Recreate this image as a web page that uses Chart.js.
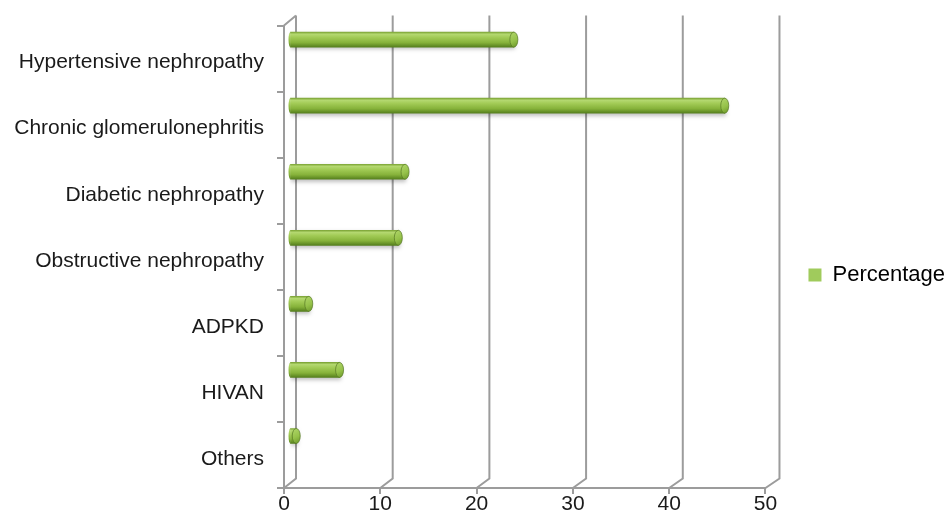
<!DOCTYPE html>
<html>
<head>
<meta charset="utf-8">
<title>Causes of chronic kidney disease</title>
<script src="https://cdn.jsdelivr.net/npm/chart.js@4.4.1/dist/chart.umd.min.js"></script>
<style>
  html, body { margin: 0; padding: 0; background: #ffffff; }
  #wrap { width: 951px; height: 516px; position: relative; }
</style>
</head>
<body>
<div id="wrap"><canvas id="c" width="951" height="516"></canvas></div>
<script>
// Aetiology of kidney disease, share of patients (%)
const categories = [
  'Hypertensive nephropathy',
  'Chronic glomerulonephritis',
  'Diabetic nephropathy',
  'Obstructive nephropathy',
  'ADPKD',
  'HIVAN',
  'Others'
];
const percentage = [23.3, 45.2, 12, 11.3, 2, 5.2, 0.7];
const xTicks = [0, 10, 20, 30, 40, 50];
const seriesName = 'Percentage';

// 3-D look: back wall depth and where the cylinders sit inside the box
const DEPTH_X = 12, DEPTH_Y = 9.5;
const BAR_SHIFT_X = 5.5, BAR_SHIFT_Y = -19;
const GRID = '#9c9c9c';
const FONT = "'Liberation Sans', Arial, sans-serif";

const wallAndCylinders = {
  id: 'wallAndCylinders',
  afterLayout(chart) {
    // park the legend on the right, level with the middle of the bars
    const lg = chart.legend;
    if (lg) { lg.left += 33; lg.right += 33; lg.top += 5; lg.bottom += 5; }
  },
  beforeDatasetsDraw(chart) {
    const {ctx, chartArea} = chart;
    const xs = chart.scales.x;
    const top = chartArea.top - DEPTH_Y - 0.5;
    const bottom = chartArea.bottom;
    ctx.save();
    ctx.strokeStyle = GRID;
    ctx.lineWidth = 2;
    ctx.beginPath();
    xTicks.forEach(v => {
      const x = xs.getPixelForValue(v);
      const bx = x + DEPTH_X + v * 0.04;
      ctx.moveTo(bx, top);
      ctx.lineTo(bx, bottom - DEPTH_Y);
      ctx.lineTo(x, bottom);
    });
    // top corner of the side wall
    ctx.moveTo(chartArea.left, chartArea.top);
    ctx.lineTo(chartArea.left + DEPTH_X, top);
    ctx.stroke();
    ctx.restore();

    // cylinders float inside the box
    ctx.save();
    ctx.translate(BAR_SHIFT_X, BAR_SHIFT_Y);
    ctx.shadowColor = 'rgba(0,0,0,0.25)';
    ctx.shadowBlur = 4;
    ctx.shadowOffsetX = 1;
    ctx.shadowOffsetY = 2;
  },
  afterDatasetsDraw(chart) {
    const {ctx} = chart;
    ctx.shadowColor = 'rgba(0,0,0,0)';
    ctx.shadowBlur = 0;
    ctx.shadowOffsetX = 0;
    ctx.shadowOffsetY = 0;
    const meta = chart.getDatasetMeta(0);
    meta.data.forEach(bar => {
      const h = bar.height / 2;
      const rx = 4;
      // rounded far end of each cylinder
      const g = ctx.createLinearGradient(bar.x - rx, bar.y - h, bar.x + rx, bar.y + h);
      g.addColorStop(0, '#b0d66a');
      g.addColorStop(0.55, '#96c24a');
      g.addColorStop(1, '#6a9628');
      ctx.beginPath();
      ctx.ellipse(bar.x, bar.y, rx, h, 0, 0, Math.PI * 2);
      ctx.fillStyle = g;
      ctx.fill();
      ctx.strokeStyle = 'rgba(85,120,35,0.7)';
      ctx.lineWidth = 1;
      ctx.stroke();
      // near end, mostly hidden
      ctx.beginPath();
      ctx.ellipse(bar.base, bar.y, 2, h, 0, Math.PI / 2, Math.PI * 1.5);
      ctx.fillStyle = cylinderFill(ctx, bar.y, h);
      ctx.fill();
    });
    ctx.restore();
  }
};

function cylinderFill(ctx, yc, h) {
  const g = ctx.createLinearGradient(0, yc - h, 0, yc + h);
  g.addColorStop(0, '#7ea638');
  g.addColorStop(0.14, '#b4d870');
  g.addColorStop(0.35, '#a2cb56');
  g.addColorStop(0.7, '#86b23a');
  g.addColorStop(1, '#557f1d');
  return g;
}

new Chart(document.getElementById('c'), {
  type: 'bar',
  data: {
    labels: categories,
    datasets: [{
      label: seriesName,
      data: percentage,
      barThickness: 15,
      borderWidth: 0,
      backgroundColor: (c) => {
        const chart = c.chart;
        if (!chart.chartArea || c.dataIndex === undefined) return '#9bc75a';
        const y = chart.scales.y.getPixelForValue(c.dataIndex);
        return cylinderFill(chart.ctx, y, 7.5);
      }
    }]
  },
  options: {
    indexAxis: 'y',
    responsive: false,
    devicePixelRatio: 1,
    animation: false,
    layout: { padding: { top: 24, right: 29, bottom: 0, left: 0 } },
    scales: {
      x: {
        min: 0,
        max: 50,
        afterBuildTicks: (s) => { s.ticks = xTicks.map(v => ({ value: v })); },
        afterFit: (s) => { s.height = 28; },
        grid: { drawOnChartArea: false, drawTicks: true, tickLength: 6, color: GRID, lineWidth: 2 },
        border: { display: true, color: GRID, width: 2 },
        ticks: { color: '#1a1a1a', font: { family: FONT, size: 21 }, padding: -2, maxRotation: 0 }
      },
      y: {
        afterFit: (s) => { s.width = 284; },
        grid: { drawOnChartArea: false, drawTicks: true, tickLength: 7, offset: true, color: GRID, lineWidth: 2 },
        border: { display: true, color: GRID, width: 2 },
        ticks: { color: '#1a1a1a', font: { family: FONT, size: 21 }, padding: 13, labelOffset: 4 }
      }
    },
    plugins: {
      tooltip: { enabled: false },
      legend: {
        position: 'right',
        labels: {
          font: { family: FONT, size: 22 },
          color: '#1a1a1a',
          boxWidth: 13,
          boxHeight: 13,
          generateLabels: (chart) => chart.data.datasets.map((ds, i) => ({
            text: ds.label,
            fillStyle: '#a0cb5c',
            strokeStyle: '#a0cb5c',
            lineWidth: 0,
            hidden: false,
            datasetIndex: i
          }))
        }
      }
    }
  },
  plugins: [wallAndCylinders]
});
</script>
</body>
</html>
